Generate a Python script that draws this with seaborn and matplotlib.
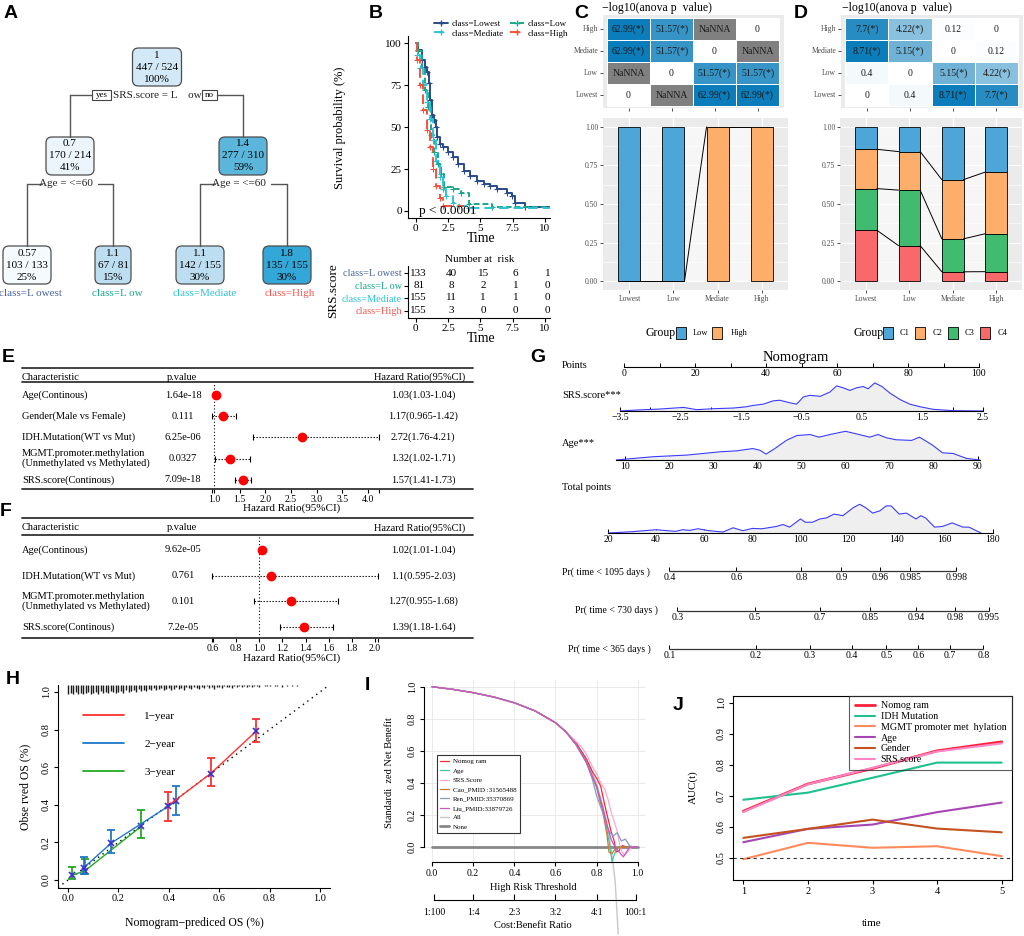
import numpy as np
import pandas as pd
import matplotlib
matplotlib.use('Agg')
import matplotlib.pyplot as plt
import seaborn as sns
from matplotlib import transforms as mtrans
from matplotlib.patches import FancyBboxPatch, Rectangle, Polygon
from matplotlib.lines import Line2D
from matplotlib.colors import LinearSegmentedColormap, ListedColormap

nan = np.nan
# ======================= DATA =======================
# A: regression tree
tree_value = [1.0, 0.7, 1.4, 0.57, 1.1, 1.1, 1.8]
tree_num = [447, 170, 277, 103, 67, 142, 135]
tree_den = [524, 214, 310, 133, 81, 155, 155]
tree_pct = [100, 41, 59, 25, 15, 30, 30]
tree_split = ['SRS.score = L    ow', 'Age = <=60', 'Age = <=60']
leaf_class = ['class=L owest', 'class=L ow', 'class=Mediate', 'class=High']

# B: Kaplan-Meier (time in years, survival %)
km_lowest_t = [0, 0.21, 0.47, 0.72, 0.90, 1.03, 1.11, 1.24, 1.42, 1.58, 1.68, 1.89, 2.14, 2.53, 2.92, 3.31, 3.70, 4.21, 4.73, 5.25, 5.76, 6.28, 7.05, 7.44, 7.70, 8.48, 10.4]
km_lowest_s = [100, 96, 90, 86, 83, 76, 66, 57, 54, 50, 44, 40, 38, 35, 32, 28, 24, 21, 18, 16, 15, 13, 11, 9, 5, 2.4, 2.4]
km_low_t = [0, 0.2, 0.45, 0.7, 0.95, 1.2, 1.45, 1.7, 1.95, 2.2, 2.85, 3.5, 4.15, 5.9, 10.4]
km_low_s = [100, 95, 85, 72, 62, 45, 35, 28, 22, 14, 13, 11, 4, 2.5, 2.5]
km_med_t = [0, 0.1, 0.33, 0.6, 0.85, 1.1, 1.35, 1.6, 1.85, 2.1, 2.35, 2.85, 3.35, 4.1, 10.4]
km_med_s = [100, 93, 85, 75, 65, 55, 42, 30, 20, 13, 9, 5, 3, 1.5, 1.5]
km_high_t = [0, 0.13, 0.33, 0.6, 0.85, 1.1, 1.35, 1.6, 1.85, 2.1, 3.7]
km_high_s = [100, 90, 75, 60, 48, 38, 25, 15, 8, 3, 3]
km_labels = ['class=Lowest', 'class=Low', 'class=Mediate', 'class=High']
risk_times = [0, 2.5, 5, 7.5, 10]
risk_labels = ['class=L owest', 'class=L ow', 'class=Mediate', 'class=High']
risk_counts = [[133, 40, 15, 6, 1], [81, 8, 2, 1, 0], [155, 11, 1, 1, 0], [155, 3, 0, 0, 0]]

# C, D: -log10(anova p) heatmaps and composition bars
hm_rows = ['High', 'Mediate', 'Low', 'Lowest']
bar_cats = ['Lowest', 'Low', 'Mediate', 'High']
c_vals = [[62.99, 51.57, nan, 0], [62.99, 51.57, 0, nan], [nan, 0, 51.57, 51.57], [0, nan, 62.99, 62.99]]
d_vals = [[7.7, 4.22, 0.12, 0], [8.71, 5.15, 0, 0.12], [0.4, 0, 5.15, 4.22], [0, 0.4, 8.71, 7.7]]
c_groups = ['Low', 'High']
c_props = [[1, 0], [1, 0], [0, 1], [0, 1]]
d_groups = ['C1', 'C2', 'C3', 'C4']
d_props = [[0.145, 0.255, 0.27, 0.33], [0.16, 0.25, 0.36, 0.23], [0.342, 0.384, 0.214, 0.06], [0.293, 0.40, 0.246, 0.061]]

# E: univariate Cox
e_names = ['Age(Continous)', 'Gender(Male vs Female)', 'IDH.Mutation(WT vs Mut)',
           'MGMT.promoter.methylation\n(Unmethylated vs Methylated)', 'SRS.score(Continous)']
e_p = ['1.64e-18', '0.111', '6.25e-06', '0.0327', '7.09e-18']
e_hr = [1.03, 1.17, 2.72, 1.32, 1.57]
e_lo = [1.03, 0.965, 1.76, 1.02, 1.41]
e_hi = [1.04, 1.42, 4.21, 1.71, 1.73]
e_ticks = [1.0, 1.5, 2.0, 2.5, 3.0, 3.5, 4.0]
# F: multivariate Cox
f_names = ['Age(Continous)', 'IDH.Mutation(WT vs Mut)',
           'MGMT.promoter.methylation\n(Unmethylated vs Methylated)', 'SRS.score(Continous)']
f_p = ['9.62e-05', '0.761', '0.101', '7.2e-05']
f_hr = [1.02, 1.1, 1.27, 1.39]
f_lo = [1.01, 0.595, 0.955, 1.18]
f_hi = [1.04, 2.03, 1.68, 1.64]
f_ticks = [0.6, 0.8, 1.0, 1.2, 1.4, 1.6, 1.8, 2.0]

# G: nomogram
srs_dens_x = [-3.5, -3.22, -2.84, -2.45, -2.23, -1.96, -1.63, -1.41, -1.30, -1.13, -0.97, -0.86, -0.69, -0.58, -0.47, -0.36, -0.19, -0.03, 0.08, 0.19, 0.30, 0.41, 0.52, 0.60, 0.71, 0.83, 0.96, 1.13, 1.29, 1.46, 1.68, 2.01, 2.51]
srs_dens_h = [0, 3, 6, 11, 4, 7, 9, 13, 17, 21, 31, 33, 25, 21, 43, 48, 45, 58, 77, 71, 63, 71, 75, 68, 86, 75, 55, 35, 21, 13, 5, 1, 0]
age_dens_x = [8, 16.4, 24, 31.5, 35.3, 39, 40.6, 42, 44, 46.6, 49, 52, 54, 56.5, 60, 62.5, 65.5, 67.4, 69.3, 71.5, 75, 76.8, 79.8, 82, 84.4, 87.4, 90.4]
age_dens_h = [0, 10, 15, 25, 28, 35, 30, 18, 35, 60, 75, 78, 70, 78, 88, 80, 70, 78, 68, 62, 60, 70, 45, 22, 20, 5, 0]
tot_dens_x = [20, 30, 40, 48, 51, 54, 57.4, 62, 67.8, 72, 76, 80, 84, 90, 92.7, 95.5, 100, 102, 105, 108, 110.7, 114, 117.6, 122, 124.6, 127, 130, 133, 135.6, 137.7, 141, 144, 148, 150, 152, 155.7, 159, 163, 167.5, 170, 175]
tot_dens_h = [0, 4, 10, 5, 10, 8, 13, 7, 3, 16, 7, 14, 13, 20, 26, 18, 43, 33, 33, 43, 46, 58, 53, 78, 88, 78, 61, 68, 83, 83, 58, 61, 43, 53, 46, 18, 20, 31, 18, 18, 0]
points_ticks = [0, 20, 40, 60, 80, 100]
srs_ticks = [-3.5, -2.5, -1.5, -0.5, 0.5, 1.5, 2.5]
age_ticks = [10, 20, 30, 40, 50, 60, 70, 80, 90]
tot_ticks = [20, 40, 60, 80, 100, 120, 140, 160, 180]
pr1095_prob = [0.4, 0.6, 0.8, 0.9, 0.96, 0.985, 0.998]
pr1095_pts = [45.5, 73.4, 100.4, 117, 133.2, 145.6, 164.7]
pr730_prob = [0.3, 0.5, 0.7, 0.85, 0.94, 0.98, 0.995]
pr730_pts = [48.8, 81, 108, 129, 148, 164.4, 178.2]
pr365_prob = [0.1, 0.2, 0.3, 0.4, 0.5, 0.6, 0.7, 0.8]
pr365_pts = [45.5, 81.5, 104, 121.5, 135.7, 149, 162, 176]

# H: calibration
cal1_pred = [0.397, 0.566, 0.748]; cal1_obs = [0.395, 0.566, 0.793]
cal1_lo = [0.313, 0.499, 0.735]; cal1_hi = [0.469, 0.651, 0.857]
cal2_pred = [0.062, 0.172, 0.428]; cal2_obs = [0.065, 0.197, 0.418]
cal2_lo = [0.03, 0.142, 0.345]; cal2_hi = [0.12, 0.268, 0.50]
cal3_pred = [0.017, 0.068, 0.29]; cal3_obs = [0.025, 0.05, 0.285]
cal3_lo = [0.005, 0.03, 0.222]; cal3_hi = [0.071, 0.112, 0.372]
rug_x = [round(0.01 * i, 2) for i in range(93)]
rug_h = [10, 9, 10, 8, 10, 9, 10, 9, 8, 10, 9, 8, 10, 7, 9, 8, 9, 7, 8, 9,
         8, 7, 9, 6, 8, 7, 6, 8, 5, 7, 6, 7, 5, 6, 4, 6, 5, 4, 6, 5,
         4, 6, 5, 3, 5, 4, 6, 3, 4, 5, 3, 4, 5, 3, 4, 2, 4, 3, 5, 3,
         3, 4, 2, 3, 3, 4, 2, 3, 2, 3, 2, 3, 2, 3, 2, 2, 3, 1, 2, 2,
         2, 1, 2, 2, 1, 3, 1, 2, 1, 2, 1, 2, 1]

# I: decision curves
dca_thr_early = [0.0, 0.1, 0.2, 0.3, 0.4, 0.5, 0.6, 0.65]
dca_val_early = [1.0, 0.984, 0.963, 0.936, 0.90, 0.85, 0.776, 0.72]
all_t = [0.7, 0.75, 0.8, 0.85, 0.87, 0.89, 0.905]
all_v = [0.65, 0.55, 0.40, 0.155, 0.0, -0.21, -0.54]
nom_t = [0.70, 0.75, 0.78, 0.80, 0.82, 0.84, 0.855, 0.87, 0.885, 0.895, 0.91, 0.925, 0.95, 1.0]
nom_v = [0.65, 0.55, 0.47, 0.43, 0.38, 0.26, 0.18, 0.10, 0.04, -0.03, -0.02, 0.01, 0.0, 0.0]
age_t = [0.70, 0.75, 0.80, 0.84, 0.86, 0.875, 0.885, 0.90, 1.0]
age_v = [0.64, 0.53, 0.37, 0.18, 0.04, -0.09, -0.05, 0.0, 0.0]
srs_t = [0.70, 0.73, 0.75, 0.78, 0.80, 0.82, 0.84, 0.855, 0.87, 0.885, 0.90, 0.91, 0.92, 0.935, 0.95, 0.97, 1.0]
srs_v = [0.66, 0.62, 0.58, 0.50, 0.46, 0.40, 0.36, 0.30, 0.22, 0.16, 0.10, 0.03, -0.02, -0.05, -0.03, 0.0, 0.0]
cao_t = [0.70, 0.75, 0.80, 0.83, 0.85, 0.86, 0.875, 0.89, 0.91, 1.0]
cao_v = [0.64, 0.53, 0.38, 0.22, 0.08, -0.03, -0.04, -0.01, 0.0, 0.0]
ren_t = [0.70, 0.75, 0.78, 0.80, 0.82, 0.84, 0.86, 0.88, 0.90, 0.92, 0.94, 0.96, 0.98, 1.0]
ren_v = [0.64, 0.53, 0.42, 0.32, 0.25, 0.18, 0.10, 0.07, 0.09, 0.04, 0.05, 0.01, 0.0, 0.0]
liu_t = [0.70, 0.75, 0.80, 0.83, 0.85, 0.87, 0.89, 0.91, 0.93, 0.945, 0.96, 1.0]
liu_v = [0.64, 0.53, 0.38, 0.25, 0.14, 0.05, 0.0, -0.03, -0.06, -0.03, 0.0, 0.0]
dca_labels = ['Nomog ram', 'Age', 'SRS.Score', 'Cao_PMID :31565488', 'Ren_PMID:35370869', 'Liu_PMID:33879726', 'All', 'None']
cb_thr = [0.0099, 0.2, 0.4, 0.6, 0.8, 0.9901]
cb_labels = ['1:100', '1:4', '2:3', '3:2', '4:1', '100:1']

# J: time-dependent AUC
j_time = [1, 2, 3, 4, 5]
auc_nomogram = [0.65, 0.738, 0.788, 0.845, 0.874]
auc_idh = [0.687, 0.71, 0.758, 0.807, 0.807]
auc_mgmt = [0.495, 0.548, 0.532, 0.537, 0.505]
auc_age = [0.55, 0.593, 0.607, 0.647, 0.678]
auc_gender = [0.564, 0.593, 0.623, 0.594, 0.582]
auc_srs = [0.648, 0.737, 0.79, 0.843, 0.869]
j_labels = ['Nomog ram', 'IDH Mutation', 'MGMT promoter met  hylation', 'Age', 'Gender', 'SRS.score']

# ======================= SETUP =======================
sns.set_theme(style='ticks')
plt.rcParams.update({'font.family': ['Liberation Serif', 'DejaVu Serif'],
                     'text.color': 'black', 'axes.labelcolor': 'black',
                     'xtick.color': 'black', 'ytick.color': 'black',
                     'axes.edgecolor': 'black', 'axes.unicode_minus': True,
                     'axes.linewidth': 0.8})
W, H = 1024, 936
fig = plt.figure(figsize=(W / 100, H / 100), dpi=100)
fig.patch.set_facecolor('white')
PX = mtrans.Affine2D().scale(1.0 / W, -1.0 / H).translate(0, 1) + fig.transFigure


def axpx(x0, y0, x1, y1):
    return fig.add_axes([x0 / W, 1 - y1 / H, (x1 - x0) / W, (y1 - y0) / H])


def T(x, y, s, **kw):
    kw.setdefault('fontsize', 8)
    return fig.text(x, y, s, transform=PX, **kw)


def LN(x0, y0, x1, y1, **kw):
    kw.setdefault('color', 'black')
    kw.setdefault('lw', 0.8)
    fig.add_artist(Line2D([x0, x1], [y0, y1], transform=PX, **kw))


for lab, x, y in [('A', 4, 14), ('B', 369, 14), ('C', 574, 14), ('D', 794, 14), ('E', 2, 357),
                  ('F', 0, 512), ('G', 530, 358), ('H', 6, 680), ('I', 365, 686), ('J', 673, 706)]:
    T(x, y, lab, fontsize=14, fontweight='bold', family='Liberation Sans', va='center', ha='left')

# ======================= A =======================
tree_xy = [(157, 67), (70, 156), (243, 156), (27, 265), (113, 265), (200, 265), (287, 265)]
tree_w = [49, 48, 48, 48, 36, 48, 48]
tree_cmap = LinearSegmentedColormap.from_list('tree', [(0, '#f5fafd'), (0.35, '#d3e9f7'), (0.45, '#b8dbf0'),
                                                       (0.675, '#5bb6dc'), (1, '#33a7d8')])
tnorm = plt.Normalize(min(tree_value), max(tree_value))
for (cx, cy), w, v, n, d, p in zip(tree_xy, tree_w, tree_value, tree_num, tree_den, tree_pct):
    fig.add_artist(FancyBboxPatch((cx - w / 2, cy - 19), w, 38, boxstyle='round,pad=0,rounding_size=6',
                                  transform=PX, fc=tree_cmap(tnorm(v)), ec='#4d4d4d', lw=0.9))
    T(cx, cy - 12, f'{v:g}', ha='center', va='center', fontsize=8)
    T(cx, cy, f'{n} / {d}', ha='center', va='center', fontsize=8)
    T(cx, cy + 12, f'{p}%', ha='center', va='center', fontsize=8)
lc = '#555555'
LN(70, 95, 92, 95, color=lc, lw=1); LN(217, 95, 243, 95, color=lc, lw=1)
LN(70, 95, 70, 137, color=lc, lw=1); LN(243, 95, 243, 137, color=lc, lw=1)
fig.add_artist(Rectangle((92, 90), 19, 10, transform=PX, fc='white', ec='#444', lw=0.8))
fig.add_artist(Rectangle((202, 90), 15, 10, transform=PX, fc='white', ec='#444', lw=0.8))
T(101.5, 95, 'yes', fontsize=6.5, ha='center', va='center')
T(209.5, 95, 'no', fontsize=6.5, ha='center', va='center')
T(157, 95, tree_split[0], fontsize=8, ha='center', va='center', color='#222')
for (tx, xa, xb, xc, xd), s in zip([(66, 27, 42, 98, 113), (239, 200, 215, 271, 287)], tree_split[1:]):
    T(tx, 184, s, fontsize=8, ha='center', va='center', color='#222')
    LN(xa, 184, xb, 184, color=lc, lw=1); LN(xc, 184, xd, 184, color=lc, lw=1)
    LN(xa, 184, xa, 246, color=lc, lw=1); LN(xd, 184, xd, 246, color=lc, lw=1)
class_cols = ['#4a64a0', '#19a98b', '#2cc4d6', '#f25a50']
for cx, s, c in zip([30, 117, 205, 290], leaf_class, class_cols):
    T(cx, 293, s, fontsize=8, ha='center', va='center', color=c)

# ======================= B =======================
km_colors = ['#2b4b8c', '#17a88a', '#30c2d6', '#f5513c']
km_styles = ['-', (0, (3, 1.5)), (0, (5, 2.5)), (0, (5, 2.5))]
axB = axpx(408, 36, 550, 218)
handles = []
for t, s, c, ls, lab in zip([km_lowest_t, km_low_t, km_med_t, km_high_t],
                            [km_lowest_s, km_low_s, km_med_s, km_high_s], km_colors, km_styles, km_labels):
    axB.step(t, s, where='post', color=c, ls=ls, lw=1.4)
    axB.plot(t[1:-1], s[1:-1], '+', color=c, ms=4, mew=0.8)
    handles.append(Line2D([], [], color=c, ls=ls, lw=1.4, marker='+', ms=4))
axB.set_xlim(-0.6, 10.4); axB.set_ylim(-4.17, 104.2)
axB.set_xticks(risk_times, ['0', '2.5', '5', '7.5', '10'])
axB.set_yticks([0, 25, 50, 75, 100])
axB.tick_params(labelsize=8, length=3, width=0.8, pad=1.5)
axB.spines[['top', 'right']].set_visible(False)
axB.text(0.25, 0, 'p < 0.0001', fontsize=9.5, va='center', ha='left')
T(340, 128, 'Survival probability (%)', rotation=90, fontsize=9, ha='center', va='center')
T(481, 238, 'Time', fontsize=10, ha='center', va='center')
fig.legend([handles[0], handles[2], handles[1], handles[3]],
           [km_labels[0], km_labels[2], km_labels[1], km_labels[3]], ncol=2, loc='upper left',
           bbox_to_anchor=(434 / W, 1 - 20 / H), frameon=False, fontsize=6.5, handlelength=1.6,
           handletextpad=0.4, columnspacing=0.6, labelspacing=0.1, borderpad=0, borderaxespad=0)

axR = axpx(408, 266, 550, 318)
axR.set_xlim(-0.6, 10.4); axR.set_ylim(3.6, -0.56)
num_tr = mtrans.offset_copy(axR.transData, fig=fig, x=3, y=0, units='dots')
for i, row in enumerate(risk_counts):
    for t, n in zip(risk_times, row):
        axR.text(t, i, str(n), ha='center', va='center', fontsize=8, transform=num_tr)
axR.set_yticks(range(4)); axR.set_yticklabels(risk_labels)
for tl, c in zip(axR.get_yticklabels(), class_cols):
    tl.set_color(c)
axR.set_xticks(risk_times, ['0', '2.5', '5', '7.5', '10'])
axR.tick_params(labelsize=8, length=3, width=0.8, pad=1.5)
axR.tick_params(axis='y', labelsize=7.5)
axR.spines[['top', 'right']].set_visible(False)
T(480, 259, 'Number at  risk', fontsize=8, ha='center', va='center')
T(481, 338, 'Time', fontsize=10, ha='center', va='center')
T(333, 291, 'SRS.score', rotation=90, fontsize=9.5, ha='center', va='center')

# ======================= C / D =======================
hm_cmap = LinearSegmentedColormap.from_list('hm', ['#ffffff', '#0b7dba'])


def heat(x0, x1, vals, title_x):
    arr = np.array(vals, dtype=float)
    nanm = np.isnan(arr)
    thr = -np.log10(0.05)
    labels = np.array([[('NaNNA' if np.isnan(v) else (f'{v:g}(*)' if v > thr else f'{v:g}')) for v in row]
                       for row in arr])
    ax = axpx(x0 - 4, 15, x1 + 5, 108)
    kws = {'fontsize': 7, 'color': '#1a1a1a'}
    sns.heatmap(arr, mask=nanm, cmap=hm_cmap, vmin=0, vmax=np.nanmax(arr), annot=labels, fmt='',
                cbar=False, linewidths=0.6, linecolor='white', ax=ax, annot_kws=kws)
    if nanm.any():
        sns.heatmap(np.where(nanm, 1.0, np.nan), mask=~nanm, cmap=ListedColormap(['#808080']), vmin=0, vmax=2,
                    annot=labels, fmt='', cbar=False, linewidths=0.6, linecolor='white', ax=ax, annot_kws=kws)
    cw = (x1 - x0) / 4.0
    ax.set_xlim(-4 / cw, 4 + 5 / cw); ax.set_ylim(4 + 2 / 22.0, -3 / 22.0)
    ax.set_facecolor('#ebebeb')
    ax.set_yticks(np.arange(4) + 0.5); ax.set_yticklabels(hm_rows, rotation=0, fontsize=5.5, color='#4d4d4d')
    ax.set_xticks(np.arange(4) + 0.5); ax.set_xticklabels([])
    ax.tick_params(length=2, width=0.6, color='#333', pad=1.5, left=True, bottom=True)
    T(title_x, 8, '\u2212log10(anova p  value)', fontsize=8.5, ha='left', va='center')


def stack(x0, x1, props, colors):
    ax = axpx(x0, 118, x1, 290)
    ax.set_facecolor('#ebebeb')
    ax.set_xlim(-0.6, 3.6); ax.set_ylim(-0.058, 1.058)
    ax.set_yticks([0, 0.25, 0.5, 0.75, 1.0]); ax.set_yticklabels(['0.00', '0.25', '0.50', '0.75', '1.00'])
    ax.set_yticks([0.125, 0.375, 0.625, 0.875], minor=True)
    ax.set_xticks(range(4)); ax.set_xticklabels(bar_cats)
    ax.grid(which='major', color='white', lw=0.8)
    ax.grid(which='minor', axis='y', color='white', lw=0.4)
    ax.set_axisbelow(True)
    P = np.array(props, dtype=float)
    tops = 1 - np.cumsum(P, axis=1) + P
    bots = tops - P
    for k in range(P.shape[1]):
        ax.bar(range(4), P[:, k], bottom=bots[:, k], width=0.5, color=colors[k], ec='black', lw=0.6, zorder=3)
    for i in range(3):
        for k in range(P.shape[1]):
            ax.add_patch(Polygon([(i + 0.25, tops[i, k]), (i + 0.75, tops[i + 1, k]),
                                  (i + 0.75, bots[i + 1, k]), (i + 0.25, bots[i, k])],
                                 closed=True, fc='white', alpha=0.6, ec='none', zorder=2))
        for k in range(P.shape[1] - 1):
            ax.plot([i + 0.25, i + 0.75], [bots[i, k], bots[i + 1, k]], color='black', lw=0.7, zorder=4)
    for s in ax.spines.values():
        s.set_visible(False)
    ax.tick_params(which='major', length=2, width=0.6, color='#333', labelsize=5.5, labelcolor='#4d4d4d', pad=1.5)
    ax.tick_params(which='minor', length=0)


def group_legend(xg, items):
    T(xg, 333, 'Group', fontsize=8.5, va='center', ha='left')
    for bx, lx, col, lab in items:
        fig.add_artist(Rectangle((bx, 327), 10, 12, transform=PX, fc=col, ec='black', lw=0.6))
        T(lx, 333, lab, fontsize=6, va='center', ha='left')


col_blue, col_orange, col_green, col_red = '#4da6d7', '#fdae6b', '#41bb6f', '#f7696b'
heat(607, 779, c_vals, 602)
heat(845, 1018, d_vals, 842)
stack(603, 788, c_props, [col_blue, col_orange])
stack(840, 1022, d_props, [col_blue, col_orange, col_green, col_red])
group_legend(646, [(676, 693, col_blue, c_groups[0]), (712, 731, col_orange, c_groups[1])])
group_legend(853, [(883, 900, col_blue, d_groups[0]), (915, 933, col_orange, d_groups[1]),
                   (948, 965, col_green, d_groups[2]), (980, 998, col_red, d_groups[3])])

# ======================= E / F =======================


def forest(names, pvals, hr, lo, hi, xlim, ticks, top_rule, head_y, head_rule, bot_rule, row0, step, label_y):
    for yy in (top_rule, head_rule, bot_rule):
        LN(22, yy, 473, yy, lw=1.3, color='#333')
    T(22, head_y, 'Characteristic', fontsize=7.5, va='center', ha='left')
    T(182, head_y, 'p.value', fontsize=7.5, ha='center', va='center')
    T(465, head_y, 'Hazard Ratio(95%CI)', fontsize=7.5, ha='right', va='center')
    ax = axpx(210, head_rule, 382, bot_rule)
    ax.patch.set_alpha(0)
    ax.set_xlim(*xlim)
    ax.set_ylim((bot_rule - row0) / step, (head_rule - row0) / step)
    hr, lo, hi = np.array(hr), np.array(lo), np.array(hi)
    y = np.arange(len(hr))
    eb = ax.errorbar(hr, y, xerr=[hr - lo, hi - hr], fmt='o', ms=6, color='red', mec='red', ecolor='black',
                     elinewidth=0.8, capsize=2.5, capthick=0.8, zorder=3)
    eb[2][0].set_linestyle((0, (1.2, 1.5)))
    ax.axvline(1, color='black', lw=0.8, ls=(0, (1, 2)), zorder=1)
    for s in ax.spines.values():
        s.set_visible(False)
    ax.set_yticks([])
    ax.set_xticks(ticks); ax.set_xticklabels([f'{t:.1f}' for t in ticks])
    ax.set_xticks([lo.min(), hi.max()], minor=True)
    ax.tick_params(axis='x', which='both', direction='out', length=3, width=0.8, labelsize=7, pad=1)
    tr = mtrans.blended_transform_factory(PX, ax.transData)
    for i in range(len(hr)):
        ax.text(22, i, names[i], transform=tr, ha='left', va='center', fontsize=7.5, linespacing=1.0)
        ax.text(183, i, pvals[i], transform=tr, ha='center', va='center', fontsize=7.5)
        ax.text(423, i, f'{hr[i]:g}({lo[i]:g}-{hi[i]:g})', transform=tr, ha='center', va='center', fontsize=7.5)
    T(292, label_y, 'Hazard Ratio(95%CI)', fontsize=8, ha='center', va='center')


forest(e_names, e_p, e_hr, e_lo, e_hi, (0.922, 4.275), e_ticks, 368, 377, 382, 489, 395, 21.2, 508)
forest(f_names, f_p, f_hr, f_lo, f_hi, (0.574, 2.061), f_ticks, 518, 528, 535, 638, 550, 25.7, 658)

# ======================= G =======================
dens_line, dens_fill = '#3b3bff', '#efefef'


def nomo_axis(x0, x1, yline, xlim, ticks, labels, minor=None, dx=None, dh=None, height=31):
    ax = axpx(x0, yline - height, x1, yline)
    ax.patch.set_alpha(0)
    ax.set_xlim(*xlim); ax.set_ylim(0, 95)
    for s in ['top', 'right', 'left']:
        ax.spines[s].set_visible(False)
    ax.spines['bottom'].set_linewidth(0.8)
    ax.set_yticks([])
    ax.set_xticks(ticks); ax.set_xticklabels(labels)
    if minor is not None:
        ax.set_xticks(minor, minor=True)
    ax.tick_params(axis='x', which='both', direction='in', length=3, width=0.7, labelsize=7, pad=1.5)
    if dx is not None:
        ax.fill_between(dx, dh, color=dens_fill, lw=0)
        ax.plot(dx, dh, color=dens_line, lw=0.8)
    return ax


T(796, 357, 'Nomogram', fontsize=10.5, ha='center', va='center')
T(562, 365, 'Points', fontsize=7.5, va='center')
T(562, 395, 'SRS.score***', fontsize=7.5, va='center')
T(562, 443, 'Age***', fontsize=7.5, va='center')
T(562, 488, 'Total points', fontsize=7.5, va='center')
T(562, 572, 'Pr( time < 1095 days )', fontsize=7, va='center')
T(575, 610, 'Pr( time < 730 days )', fontsize=7, va='center')
T(568, 649, 'Pr( time < 365 days )', fontsize=7, va='center')
nomo_axis(624, 979, 367, (0, 100), points_ticks, [str(v) for v in points_ticks],
          minor=[10, 30, 50, 70, 90], height=10)
nomo_axis(620, 983, 411, (-3.5, 2.5), srs_ticks, [f'{v:g}'.replace('-', '\u2212') for v in srs_ticks],
          minor=[-3.0, -2.0, -1.0, 0.0, 1.0, 2.0], dx=srs_dens_x, dh=srs_dens_h)
nomo_axis(616, 980, 460, (8, 90.5), age_ticks, [str(v) for v in age_ticks], dx=age_dens_x, dh=age_dens_h)
nomo_axis(608, 993, 533, (20, 180), tot_ticks, [str(v) for v in tot_ticks], dx=tot_dens_x, dh=tot_dens_h)
for yl, pts, probs in [(571, pr1095_pts, pr1095_prob), (611, pr730_pts, pr730_prob), (649, pr365_pts, pr365_prob)]:
    ax = axpx(608, yl - 8, 993, yl)
    ax.patch.set_alpha(0)
    ax.set_xlim(20, 180); ax.set_ylim(0, 1)
    for s in ax.spines.values():
        s.set_visible(False)
    ax.hlines(0, pts[0], pts[-1], color='#333', lw=0.9, clip_on=False)
    ax.set_yticks([])
    ax.set_xticks(pts); ax.set_xticklabels([f'{p:g}' for p in probs])
    ax.tick_params(axis='x', direction='in', length=3, width=0.7, labelsize=7, pad=1.5)

# ======================= H =======================
axH = axpx(58, 684.5, 330, 887.5)
axH.set_xlim(-0.04, 1.04); axH.set_ylim(-0.04, 1.04)
axH.spines[['top', 'right']].set_visible(False)
axH.plot([-0.04, 1.04], [-0.04, 1.04], ls=(0, (1, 3)), color='black', lw=1)
axH.vlines(rug_x, 1.04 - np.array(rug_h) / 188.0, 1.04, color='#1a1a1a', lw=1.0)
cal_cols = ['#ff3030', '#1f78c8', '#22aa22']
cal_lab = ['1\u2212year', '2\u2212year', '3\u2212year']
for pred, obs, lo, hi, col in [(cal3_pred, cal3_obs, cal3_lo, cal3_hi, cal_cols[2]),
                               (cal2_pred, cal2_obs, cal2_lo, cal2_hi, cal_cols[1]),
                               (cal1_pred, cal1_obs, cal1_lo, cal1_hi, cal_cols[0])]:
    pred, obs, lo, hi = map(np.array, (pred, obs, lo, hi))
    axH.plot(pred, obs, color=col, lw=1)
    axH.errorbar(pred, obs, yerr=[obs - lo, hi - obs], fmt='none', ecolor=col, elinewidth=1.3, capsize=3,
                 capthick=1.3)
    axH.plot(pred, obs, 'x', color='#3a2fd0', ms=4, mew=1.2)
hh = [Line2D([], [], color=c, lw=1.3) for c in cal_cols]
axH.legend(hh, cal_lab, loc='upper left', bbox_to_anchor=(0.055, 0.92), frameon=False, fontsize=8,
           handlelength=3.7, handletextpad=1.8, labelspacing=1.65)
tk = [0, 0.2, 0.4, 0.6, 0.8, 1.0]
axH.set_xticks(tk, [f'{v:.1f}' for v in tk])
axH.set_yticks(tk); axH.set_yticklabels([f'{v:.1f}' for v in tk], rotation=90, va='center')
axH.tick_params(labelsize=7.5, length=3, width=0.8, pad=2)
T(194, 923, 'Nomogram\u2212prediced OS (%)', fontsize=8.5, ha='center', va='center')
T(25, 787, 'Obse rved OS (%)', fontsize=8.5, rotation=90, ha='center', va='center')

# ======================= I =======================
axI = axpx(423.8, 680, 646, 862)
axI.set_xlim(-0.04, 1.04); axI.set_ylim(-0.092, 1.042)
axI.spines[['top', 'right']].set_visible(False)
axI.spines['left'].set_bounds(0, 1); axI.spines['bottom'].set_bounds(0, 1)
axI.grid(True, color='#e6e6e6', lw=0.6)
axI.set_axisbelow(True)
axI.plot(dca_thr_early + all_t, dca_val_early + all_v, color='#c8c8c8', lw=1, clip_on=False)
axI.plot([0, 1], [0, 0], color='#888888', lw=2)
dca_cols = ['#ee2a35', '#3cc8a4', '#ffa8cc', '#c8782e', '#8a98c4', '#cc55c4']
for t, v, c in zip([nom_t, age_t, srs_t, cao_t, ren_t, liu_t], [nom_v, age_v, srs_v, cao_v, ren_v, liu_v], dca_cols):
    axI.plot(dca_thr_early + t, dca_val_early + v, color=c, lw=0.9)
hI = [Line2D([], [], color=c, lw=0.9) for c in dca_cols] + [Line2D([], [], color='#c8c8c8', lw=1),
                                                            Line2D([], [], color='#888888', lw=2)]
legI = axI.legend(hI, dca_labels, loc='upper left', bbox_to_anchor=(0.059, 0.588), fontsize=5, frameon=True,
                  fancybox=False, edgecolor='#333', framealpha=1, handlelength=1.3, handletextpad=0.5,
                  labelspacing=0.5, borderpad=0.5, borderaxespad=0)
legI.get_frame().set_linewidth(0.8)
axI.set_xticks(tk, [f'{v:.1f}' for v in tk])
axI.set_yticks(tk); axI.set_yticklabels([f'{v:.1f}' for v in tk], rotation=90, va='center')
axI.tick_params(labelsize=7, length=3, width=0.8, pad=2)
T(533, 887, 'High Risk Threshold', fontsize=7.5, ha='center', va='center')
T(390, 773, 'Standardi  zed Net Benefit', fontsize=7.5, rotation=90, ha='center', va='center')
axC = axpx(423.8, 896, 646, 900)
axC.patch.set_alpha(0)
axC.set_xlim(-0.04, 1.04)
axC.spines[['top', 'right', 'left']].set_visible(False)
axC.spines['bottom'].set_bounds(cb_thr[0], cb_thr[-1])
axC.set_yticks([])
axC.set_xticks(cb_thr, cb_labels)
axC.tick_params(axis='x', direction='in', length=4, width=0.8, labelsize=7, pad=6)
T(533, 925, 'Cost:Benefit Ratio', fontsize=7.5, ha='center', va='center')

# ======================= J =======================
axJ = axpx(733, 696, 1012, 880)
dfJ = pd.DataFrame({'time': j_time * 6,
                    'auc': auc_nomogram + auc_idh + auc_mgmt + auc_age + auc_gender + auc_srs,
                    'model': sum([[m] * 5 for m in j_labels], [])})
j_cols = ['#f5213b', '#1dc08f', '#ff8a5c', '#a646b4', '#c4521f', '#ff85c5']
j_lw = [2.0, 1.5, 1.5, 1.5, 1.5, 1.5]
for m, c, lw in zip(j_labels, j_cols, j_lw):
    sns.lineplot(data=dfJ[dfJ['model'] == m], x='time', y='auc', color=c, lw=lw, ax=axJ, legend=False)
axJ.axhline(0.5, ls=(0, (3, 3)), color='#333', lw=0.8)
axJ.set_xlim(0.84, 5.16); axJ.set_ylim(0.428, 1.022)
axJ.set_xlabel(''); axJ.set_ylabel('')
axJ.set_xticks(j_time)
jt = [0.5, 0.6, 0.7, 0.8, 0.9, 1.0]
axJ.set_yticks(jt); axJ.set_yticklabels([f'{v:.1f}' for v in jt], rotation=90, va='center')
axJ.tick_params(labelsize=7.5, length=3, width=0.8, pad=2)
hJ = [Line2D([], [], color=c, lw=lw) for c, lw in zip(j_cols, j_lw)]
legJ = axJ.legend(hJ, j_labels, loc='upper right', bbox_to_anchor=(1, 1), borderaxespad=0, fontsize=7.2,
                  frameon=True, fancybox=False, edgecolor='#333', facecolor='none', framealpha=None,
                  handlelength=2.0, handletextpad=0.6, labelspacing=0.17, borderpad=0.55)
legJ.get_frame().set_linewidth(0.8)
T(872, 923, 'time', fontsize=8, ha='center', va='center')
T(693, 787, 'AUC(t)', fontsize=8, rotation=90, ha='center', va='center')

fig.savefig('out.png', dpi=100, facecolor='white')
